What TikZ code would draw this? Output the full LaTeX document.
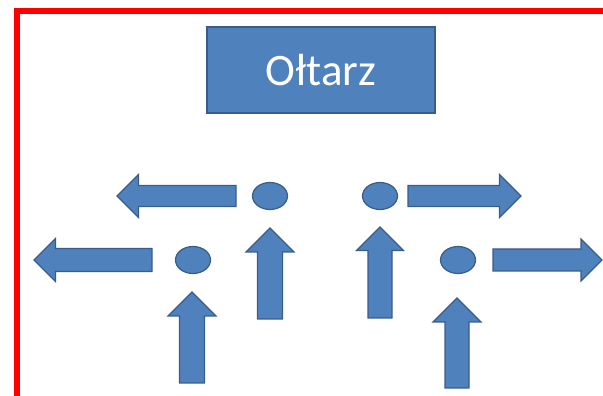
\documentclass[tikz,border=0pt]{standalone}
\usepackage{fontspec}
\setmainfont{Carlito}
\usetikzlibrary{shapes.geometric}
\definecolor{officeblue}{HTML}{4F81BD}
\definecolor{officeedge}{HTML}{385D8A}
\tikzset{
    blockarrow/.style = {fill = officeblue, draw = officeedge, line width = 1.2pt, line join = miter},
    spot/.style = {ellipse, fill = officeblue, draw = officeedge, line width = 1.2pt, minimum width = 35pt, minimum height = 27pt, inner sep = 0pt}
}
\begin{document}
\begin{tikzpicture}[x = 1pt, y = 1pt]
            \clip (0,0) rectangle (603,396);
            % frame
            \draw[red, line width = 6pt] (17,-20) |- (640,385);
            % altar
            \node[fill = officeblue, draw = officeedge, line width = 1.5pt, minimum width = 228pt, minimum height = 86pt, inner sep = 0pt, text = white, font = \fontsize{45}{50}\selectfont] (altar) at (321,326) {\raisebox{-3pt}{Ołtarz}};
            % spots
            \foreach \x/\y [count = \xi] in {270/200, 193/136, 380/200, 458/136}
                {
                    \node[spot] (spot\xi) at (\x,\y) {};
                }
            % block arrows: base x / base y / angle / length / shaft half / head half
            \foreach \x/\y/\a/\l/\s/\h in {236/200/180/119/10.5/21.5, 152/136/180/118/11.5/21.5, 408/200/0/113/10.5/21.5, 493/136/0/109/11/21, 192/13/90/91/12.5/24, 270/77/90/91/12.5/24, 380/78/90/91/12/23.5, 457/8/90/90/12/24}
                {
                    \draw[blockarrow, shift = {(\x,\y)}, rotate = \a] (0,-\s) -- ({\l-\h},-\s) -- ({\l-\h},-\h) -- (\l,0) -- ({\l-\h},\h) -- ({\l-\h},\s) -- (0,\s) -- cycle;
                }
        \end{tikzpicture}
\end{document}
